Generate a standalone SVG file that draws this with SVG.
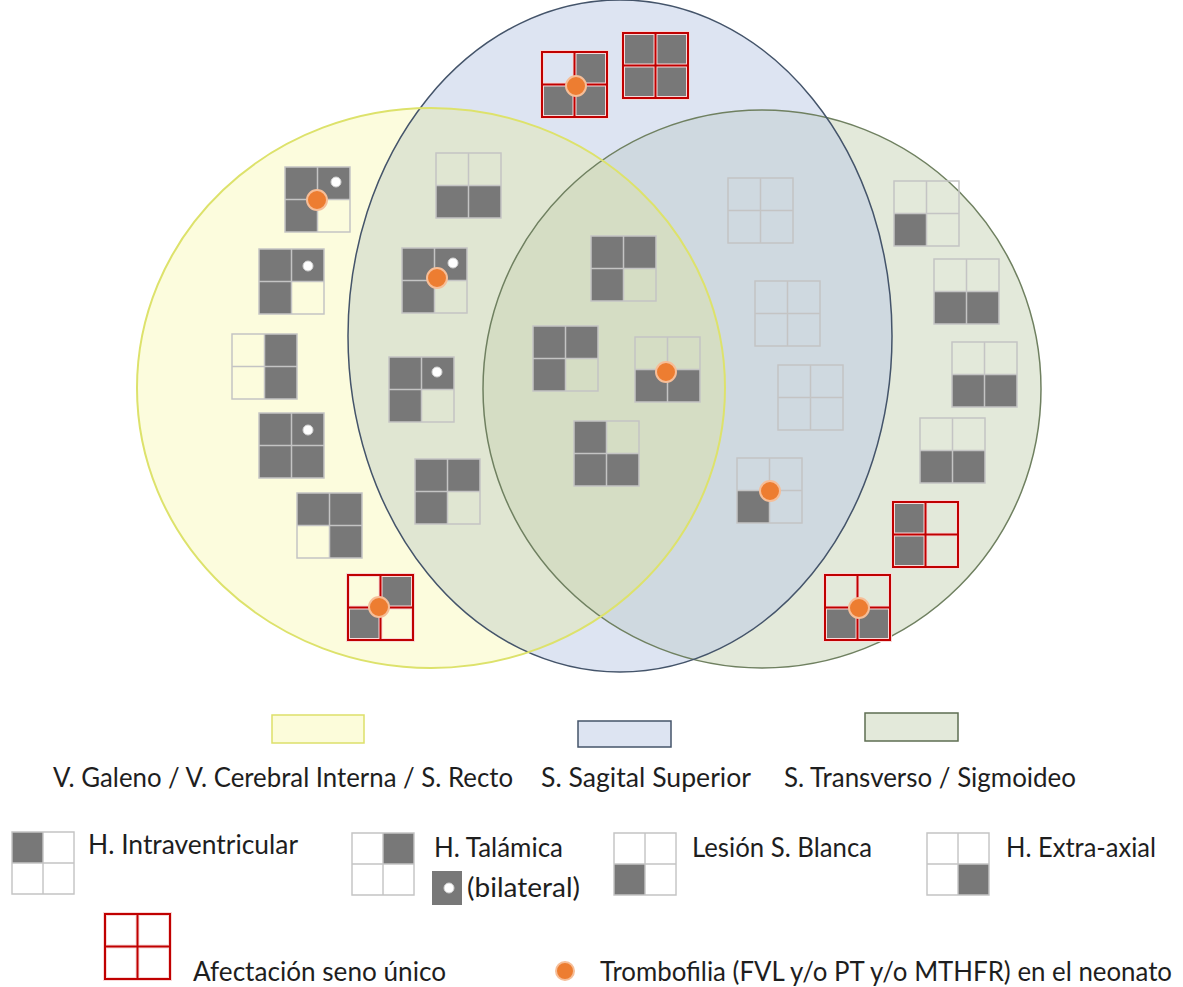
<svg xmlns="http://www.w3.org/2000/svg" xmlns:xlink="http://www.w3.org/1999/xlink" width="1183" height="987" viewBox="0 0 1183 987">
  <style>
    .dk { fill: #787878; }
    .ln { fill: none; stroke: #C4C4C4; stroke-width: 1.5; }
    .lnr { fill: none; stroke: #C00000; stroke-width: 2; }
    .halo { fill: none; stroke: #F8D8D8; stroke-width: 4; }
    .tf { fill: #ED7D31; stroke: #F6BE98; stroke-width: 2; }
    .bi { fill: #FFFFFF; stroke: #D0D0D0; stroke-width: 1; }
    .txt { font-family: Lato, "Open Sans", "Liberation Sans", sans-serif; font-size: 26px; fill: #1E1E1E; }
    .lg-cell { fill: #FFFFFF; }
  </style>
  <defs>
    <!-- quadrant cells of a 2x2 marker -->
    <rect id="tl" class="dk" x="0" y="0" width="32.5" height="32.5"/>
    <rect id="tr" class="dk" x="32.5" y="0" width="32.5" height="32.5"/>
    <rect id="bl" class="dk" x="0" y="32.5" width="32.5" height="32.5"/>
    <rect id="br" class="dk" x="32.5" y="32.5" width="32.5" height="32.5"/>
    <path id="grid" class="ln" d="M0,0H65V65H0Z M32.5,0V65 M0,32.5H65"/>
    <g id="grid-r">
      <path class="halo" d="M0,0H65V65H0Z M32.5,0V65 M0,32.5H65"/>
      <path class="lnr" d="M0,0H65V65H0Z M32.5,0V65 M0,32.5H65"/>
    </g>
  </defs>

  <rect x="0" y="0" width="1183" height="987" fill="#FFFFFF"/>

  <!-- sinus regions -->
  <g id="regions">
    <ellipse id="reg-transverso" cx="762" cy="389" rx="279" ry="279" fill="#E3E9DA"/>
    <ellipse id="reg-sagital" cx="620" cy="336" rx="272" ry="336" fill="#BBC9E5" fill-opacity="0.5"/>
    <ellipse id="reg-galeno" cx="431" cy="388" rx="294" ry="280" fill="#F2F055" fill-opacity="0.2"/>
    <ellipse cx="762" cy="389" rx="279" ry="279" fill="none" stroke="#6F8060" stroke-width="1.5"/>
    <ellipse cx="620" cy="336" rx="272" ry="336" fill="none" stroke="#44546A" stroke-width="1.5"/>
    <ellipse cx="431" cy="388" rx="294" ry="280" fill="none" stroke="#DDE26B" stroke-width="2"/>
  </g>

  <!-- case markers -->
  <g id="case-a" transform="translate(285,167)"><use href="#tl"/><use href="#tr"/><use href="#bl"/><use href="#grid"/><circle class="bi" cx="51" cy="15" r="5"/><circle class="tf" cx="32" cy="33" r="10"/></g>
  <g id="case-b" transform="translate(259,249)"><use href="#tl"/><use href="#tr"/><use href="#bl"/><use href="#grid"/><circle class="bi" cx="49" cy="17" r="5"/></g>
  <g id="case-c" transform="translate(232,334)"><use href="#tr"/><use href="#br"/><use href="#grid"/></g>
  <g id="case-d" transform="translate(259,413)"><use href="#tl"/><use href="#tr"/><use href="#bl"/><use href="#br"/><use href="#grid"/><circle class="bi" cx="49" cy="17" r="5"/></g>
  <g id="case-e" transform="translate(297,493)"><use href="#tl"/><use href="#tr"/><use href="#br"/><use href="#grid"/></g>
  <g id="case-f" transform="translate(348,575)"><use href="#tr"/><use href="#bl"/><use href="#grid-r"/><circle class="tf" cx="31" cy="32" r="10"/></g>

  <g id="case-g" transform="translate(436,153)"><use href="#bl"/><use href="#br"/><use href="#grid"/></g>
  <g id="case-h" transform="translate(402,248)"><use href="#tl"/><use href="#tr"/><use href="#bl"/><use href="#grid"/><circle class="bi" cx="51" cy="15" r="5"/><circle class="tf" cx="35" cy="30" r="10"/></g>
  <g id="case-i" transform="translate(389,357)"><use href="#tl"/><use href="#tr"/><use href="#bl"/><use href="#grid"/><circle class="bi" cx="48" cy="15" r="5"/></g>
  <g id="case-j" transform="translate(415,459)"><use href="#tl"/><use href="#tr"/><use href="#bl"/><use href="#grid"/></g>

  <g id="case-k" transform="translate(542,52)"><use href="#tr"/><use href="#bl"/><use href="#br"/><use href="#grid-r"/><circle class="tf" cx="34" cy="34" r="10"/></g>
  <g id="case-l" transform="translate(623,33)"><use href="#tl"/><use href="#tr"/><use href="#bl"/><use href="#br"/><use href="#grid-r"/></g>

  <g id="case-m" transform="translate(591,236)"><use href="#tl"/><use href="#tr"/><use href="#bl"/><use href="#grid"/></g>
  <g id="case-n" transform="translate(533,326)"><use href="#tl"/><use href="#tr"/><use href="#bl"/><use href="#grid"/></g>
  <g id="case-o" transform="translate(635,337)"><use href="#bl"/><use href="#br"/><use href="#grid"/><circle class="tf" cx="31" cy="35" r="10"/></g>
  <g id="case-p" transform="translate(574,421)"><use href="#tl"/><use href="#bl"/><use href="#br"/><use href="#grid"/></g>

  <g id="case-q" transform="translate(728,178)"><use href="#grid"/></g>
  <g id="case-r" transform="translate(755,281)"><use href="#grid"/></g>
  <g id="case-s" transform="translate(778,365)"><use href="#grid"/></g>
  <g id="case-t" transform="translate(737,458)"><use href="#bl"/><use href="#grid"/><circle class="tf" cx="33" cy="33" r="10"/></g>

  <g id="case-u" transform="translate(894,181)"><use href="#bl"/><use href="#grid"/></g>
  <g id="case-v" transform="translate(934,259)"><use href="#bl"/><use href="#br"/><use href="#grid"/></g>
  <g id="case-w" transform="translate(952,342)"><use href="#bl"/><use href="#br"/><use href="#grid"/></g>
  <g id="case-x" transform="translate(920,418)"><use href="#bl"/><use href="#br"/><use href="#grid"/></g>
  <g id="case-y" transform="translate(893,502)"><use href="#tl"/><use href="#bl"/><use href="#grid-r"/></g>
  <g id="case-z" transform="translate(825,575)"><use href="#bl"/><use href="#br"/><use href="#grid-r"/><circle class="tf" cx="34" cy="33" r="10"/></g>

  <!-- legend: sinus colours -->
  <g id="legend-sinus">
    <rect x="272" y="715" width="92" height="28" fill="#FCFCDA" stroke="#DDE06A" stroke-width="1.5"/>
    <rect x="578" y="721" width="93" height="26" fill="#DDE4F2" stroke="#44546A" stroke-width="1.5"/>
    <rect x="865" y="713" width="93" height="28" fill="#E3E9DA" stroke="#5E6E52" stroke-width="1.5"/>
    <text class="txt" x="53" y="787" textLength="460" lengthAdjust="spacingAndGlyphs">V. Galeno / V. Cerebral Interna / S. Recto</text>
    <text class="txt" x="541" y="787" textLength="210" lengthAdjust="spacingAndGlyphs">S. Sagital Superior</text>
    <text class="txt" x="784" y="787" textLength="292" lengthAdjust="spacingAndGlyphs">S. Transverso / Sigmoideo</text>
  </g>

  <!-- legend: lesion quadrants -->
  <g id="legend-intraventricular" transform="translate(12,832) scale(0.954)">
    <rect class="lg-cell" width="65" height="65"/><use href="#tl"/><use href="#grid"/>
  </g>
  <text class="txt" x="88" y="854" textLength="210" lengthAdjust="spacingAndGlyphs">H. Intraventricular</text>

  <g id="legend-talamica" transform="translate(352,833) scale(0.954)">
    <rect class="lg-cell" width="65" height="65"/><use href="#tr"/><use href="#grid"/>
  </g>
  <text class="txt" x="434" y="857" textLength="129" lengthAdjust="spacingAndGlyphs">H. Talámica</text>
  <g id="legend-bilateral">
    <rect class="dk" x="432" y="871" width="30" height="34"/>
    <circle class="bi" cx="449" cy="888" r="5"/>
  </g>
  <text class="txt" x="467" y="897" textLength="113" lengthAdjust="spacingAndGlyphs">(bilateral)</text>

  <g id="legend-sblanca" transform="translate(614,833) scale(0.954)">
    <rect class="lg-cell" width="65" height="65"/><use href="#bl"/><use href="#grid"/>
  </g>
  <text class="txt" x="692" y="857" textLength="180" lengthAdjust="spacingAndGlyphs">Lesión S. Blanca</text>

  <g id="legend-extraaxial" transform="translate(927,833) scale(0.954)">
    <rect class="lg-cell" width="65" height="65"/><use href="#br"/><use href="#grid"/>
  </g>
  <text class="txt" x="1006" y="857" textLength="150" lengthAdjust="spacingAndGlyphs">H. Extra-axial</text>

  <!-- legend: single sinus / thrombophilia -->
  <g id="legend-seno-unico" transform="translate(105,914)">
    <rect class="lg-cell" width="65" height="65"/><use href="#grid-r"/>
  </g>
  <text class="txt" x="193" y="981" textLength="253" lengthAdjust="spacingAndGlyphs">Afectación seno único</text>

  <g id="legend-trombofilia">
    <circle class="tf" cx="565" cy="971" r="9"/>
  </g>
  <text class="txt" x="600" y="981" textLength="572" lengthAdjust="spacingAndGlyphs">Trombofilia (FVL y/o PT y/o MTHFR) en el neonato</text>
</svg>
